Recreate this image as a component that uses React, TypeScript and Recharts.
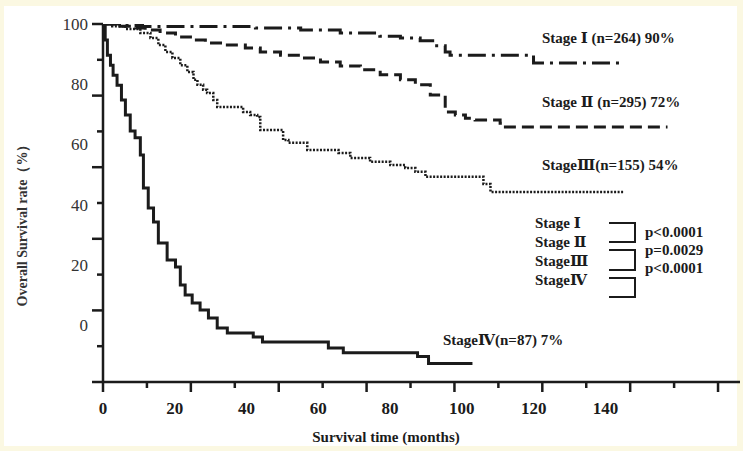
import { Line, LineChart, XAxis, YAxis } from "recharts";

const W = 743;
const H = 451;
const INK = "#1b1b1b";
const CREAM = "#fbf8e2";
const SERIF = '"Liberation Serif", "Times New Roman", "DejaVu Serif", serif';

// ticks on the drawn axes (every 10) and the printed labels (every 20)
const MONTH_TICKS = [0, 10, 20, 30, 40, 50, 60, 70, 80, 90, 100, 110, 120, 130, 140];
const RATE_TICKS = [0, 10, 20, 30, 40, 50, 60, 70, 80, 90, 100];
const MONTH_LABELS = [0, 20, 40, 60, 80, 100, 120, 140];
const RATE_LABELS = [0, 20, 40, 60, 80, 100];

// Kaplan-Meier steps: [month, survival %]
const STAGE_I: [number, number][] = [
  [0, 100], [5, 99.6], [9, 99.3], [34.7, 98.9], [45, 98.3], [54, 97.5],
  [63, 96.6], [67.7, 96.1], [72.2, 95.3], [75.6, 93.9], [77.9, 92.2],
  [79, 91.3], [98, 89.1], [118.5, 89.1],
];
const STAGE_II: [number, number][] = [
  [0, 100], [3.9, 99.4], [7.4, 98.9], [9.6, 98.3], [13, 97.5], [16.5, 96.4],
  [19.9, 95.5], [23.3, 94.7], [27.8, 94.1], [32.4, 93.3], [35.8, 92.2],
  [40.4, 91.3], [44.9, 90.5], [49.5, 89.4], [54, 88.3], [58.6, 87.2],
  [63.1, 85.8], [67.7, 84.4], [71.1, 83.0], [74.5, 80.2], [77.9, 75.4],
  [80.2, 74.6], [82.5, 73.7], [84.7, 73.2], [90.4, 72.3], [91.6, 71.2],
  [128.5, 71.2],
];
const STAGE_III: [number, number][] = [
  [0, 100], [2.1, 99.4], [5.1, 98.6], [8.5, 97.5], [10.8, 96.1], [12.6, 94.1],
  [14.2, 92.2], [15.8, 90.5], [17.6, 88.5], [19.2, 86.6], [20.6, 84.4],
  [21.5, 83.0], [22.8, 81.6], [23.7, 80.7], [25.1, 78.8], [26, 76.8],
  [31.9, 75.4], [33.5, 74.6], [35.1, 74.0], [35.8, 70.4], [41, 67.6],
  [42.2, 66.8], [46.5, 64.8], [53.6, 64.0], [56.3, 62.6], [60.8, 61.5],
  [65.4, 60.6], [68.8, 59.8], [71.1, 58.7], [73.4, 57.3], [86.6, 55.3],
  [88.2, 53.1], [118.5, 53.1],
];
const STAGE_IV: [number, number][] = [
  [0, 100], [0.5, 95.5], [1, 91.3], [1.7, 88.5], [2.3, 85.7], [3.2, 82.9],
  [4.2, 78.8], [5.1, 74.6], [6.2, 70.1], [7.3, 68.2], [8.5, 63.4],
  [9.2, 54.2], [10.3, 48.6], [11.5, 44.7], [12.6, 38.8], [14.6, 34.1],
  [16.5, 32.1], [17.6, 27.1], [18.7, 24.3], [20.3, 22.1], [22.1, 20.1],
  [24, 17.9], [26, 15.1], [28.3, 13.7], [34.2, 12.6], [36.3, 11.2],
  [51.3, 9.5], [54.7, 8.2], [71.6, 7.1], [74.1, 5.2], [84.1, 5.2],
];

const toRows = (pts: [number, number][]) => pts.map(([t, s]) => ({ t, s }));

// chart-level rows so the label-only month axis has something to hang on
const LABEL_ROWS = MONTH_LABELS.map((lab) => ({ lab }));

const SERIES = [
  { key: "I", data: STAGE_I, dash: "18 6 3 6", width: 3 },
  { key: "II", data: STAGE_II, dash: "12 6", width: 3 },
  { key: "III", data: STAGE_III, dash: "2 1.5", width: 2.5 },
  { key: "IV", data: STAGE_IV, dash: undefined, width: 3 },
];

function MonthTick({ x, y, payload }: any) {
  const len = payload.value % 20 === 0 ? 10 : 6;
  return <line x1={x} x2={x} y1={y} y2={y + len} stroke={INK} strokeWidth={2.5} />;
}

function RateTick({ x, y, payload }: any) {
  const len = payload.value % 20 === 0 ? 11 : 6;
  return <line x1={x - len} x2={x} y1={y} y2={y} stroke={INK} strokeWidth={2.5} />;
}

const bold = { fontFamily: SERIF, fontWeight: 700, fill: INK } as const;

function Annotations() {
  return (
    <svg
      width={W}
      height={H}
      style={{ position: "absolute", left: 0, top: 0, pointerEvents: "none" }}
    >
      <text
        transform="translate(22,222) rotate(-90)"
        textAnchor="middle"
        dominantBaseline="central"
        fontSize={14}
        {...bold}
        fill="#333"
      >
        Overall Survival rate（%）
      </text>
      <text x={386} y={437} textAnchor="middle" dominantBaseline="central" fontSize={15} {...bold}>
        Survival time (months)
      </text>

      <g fontSize={15} dominantBaseline="central" {...bold}>
        <text x={542} y={38}>Stage Ⅰ (n=264) 90%</text>
        <text x={542} y={102}>Stage Ⅱ (n=295) 72%</text>
        <text x={542} y={165}>StageⅢ(n=155) 54%</text>
        <text x={443} y={340}>StageⅣ(n=87) 7%</text>

        <text x={535} y={223}>Stage Ⅰ</text>
        <text x={535} y={242}>Stage Ⅱ</text>
        <text x={535} y={261}>StageⅢ</text>
        <text x={535} y={280}>StageⅣ</text>

        <text x={645} y={232}>p&lt;0.0001</text>
        <text x={645} y={250}>p=0.0029</text>
        <text x={645} y={268}>p&lt;0.0001</text>
      </g>

      <g fill="none" stroke={INK} strokeWidth={2}>
        <path d="M609 223 H635 V242 H609" />
        <path d="M609 250 H635 V270 H609" />
        <path d="M609 278 H635 V297 H609" />
      </g>
    </svg>
  );
}

export default function App() {
  return (
    <div
      style={{
        position: "absolute",
        left: 0,
        top: 0,
        width: W,
        height: H,
        background: CREAM,
      }}
    >
      <div
        style={{
          position: "absolute",
          left: 4,
          top: 6,
          width: W - 10,
          height: H - 11,
          background: "#fff",
        }}
      />
      <div style={{ position: "absolute", left: 0, top: 0 }}>
        <LineChart
          width={W}
          height={H}
          data={LABEL_ROWS}
          margin={{ top: 24, right: 3, bottom: 38, left: 101 }}
        >
          <XAxis
            xAxisId="a"
            orientation="bottom"
            type="number"
            dataKey="t"
            domain={[0, 145]}
            ticks={MONTH_TICKS}
            allowDataOverflow
            interval={0}
            height={1}
            tickSize={0}
            tickMargin={0}
            tickLine={false}
            axisLine={{ stroke: INK, strokeWidth: 2.5 }}
            tick={<MonthTick />}
          />
          <XAxis
            xAxisId="b"
            orientation="bottom"
            type="number"
            dataKey="lab"
            domain={[0, 177.5]}
            ticks={MONTH_LABELS}
            allowDataOverflow
            interval={0}
            height={30}
            tickSize={0}
            tickMargin={19}
            tickLine={false}
            axisLine={false}
            tick={{ fontSize: 17, fontFamily: SERIF, fontWeight: 700, fill: INK }}
          />
          <YAxis
            yAxisId="a"
            type="number"
            domain={[0, 100]}
            ticks={RATE_TICKS}
            allowDataOverflow
            interval={0}
            width={1}
            tickSize={0}
            tickMargin={0}
            tickLine={false}
            axisLine={{ stroke: INK, strokeWidth: 2.5 }}
            tick={<RateTick />}
          />
          <YAxis
            yAxisId="b"
            type="number"
            domain={[-19, 100]}
            ticks={RATE_LABELS}
            allowDataOverflow
            interval={0}
            width={1}
            tickSize={0}
            tickMargin={14}
            tickLine={false}
            axisLine={false}
            tick={{ fontSize: 17, fontFamily: SERIF, fill: "#333" }}
          />
          {SERIES.map((s) => (
            <Line
              key={s.key}
              xAxisId="a"
              yAxisId="a"
              data={toRows(s.data)}
              dataKey="s"
              type="stepAfter"
              stroke={INK}
              strokeWidth={s.width}
              strokeDasharray={s.dash}
              dot={false}
              activeDot={false}
              isAnimationActive={false}
            />
          ))}
        </LineChart>
      </div>
      <Annotations />
    </div>
  );
}
